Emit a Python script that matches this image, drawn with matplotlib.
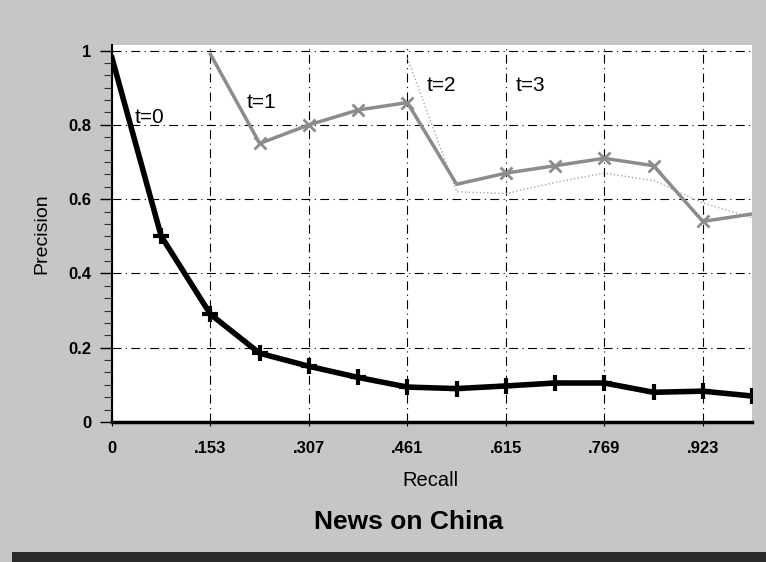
import numpy as np
import matplotlib
matplotlib.use('Agg')
import matplotlib.pyplot as plt
from matplotlib.ticker import MultipleLocator

plt.rcParams['font.family'] = ['Liberation Sans', 'DejaVu Sans']

# recall steps k/13
recall = np.arange(14) / 13.0

# t=0 (black, thick)
prec_t0 = [0.98, 0.50, 0.29, 0.185, 0.15, 0.12, 0.094, 0.09, 0.097, 0.105, 0.105, 0.08, 0.083, 0.07]

# t=1 (gray, starts at .153)
recall_t1 = recall[2:]
prec_t1 = [0.99, 0.75, 0.80, 0.84, 0.86, 0.64, 0.67, 0.69, 0.71, 0.69, 0.54, 0.56]

# faint dotted trace (t=2/t=3), starts at .461
recall_t2 = recall[6:]
prec_t2 = [0.98, 0.62, 0.615, 0.645, 0.67, 0.65, 0.59, 0.55]

xticks = [0, 2/13, 4/13, 6/13, 8/13, 10/13, 12/13]
xtick_labels = ['0', '.153', '.307', '.461', '.615', '.769', '.923']
yticks = [0, 0.2, 0.4, 0.6, 0.8, 1.0]
ytick_labels = ['0', '0.2', '0.4', '0.6', '0.8', '1']

BG = '#c6c6c6'
W, H = 766, 562

fig = plt.figure(figsize=(W / 100, H / 100), dpi=100, facecolor=BG)
ax = fig.add_axes([112 / W, 1 - 422 / H, 640 / W, 377 / H])
ax.set_facecolor('white')

ax.plot(recall_t2, prec_t2, color='#a8a8a8', linewidth=1.0, linestyle=':', zorder=2)
ax.plot(recall_t1, prec_t1, color='#8c8c8c', linewidth=2.5, marker='x',
        markersize=8, markeredgewidth=2.0, markevery=[1, 2, 3, 4, 6, 7, 8, 9, 10], zorder=3)
ax.plot(recall, prec_t0, color='black', linewidth=4, marker='+',
        markersize=12, markeredgewidth=3, markevery=list(range(1, 14)), zorder=4)

ax.set_xlim(0, 1)
ax.set_ylim(0, 1.015)
ax.set_xticks(xticks)
ax.set_xticklabels(xtick_labels)
ax.set_yticks(yticks)
ax.set_yticklabels(ytick_labels)
ax.yaxis.set_minor_locator(MultipleLocator(0.2 / 6))
ax.tick_params(axis='x', which='major', length=3, direction='out', pad=11, labelsize=12)
ax.tick_params(axis='y', which='major', length=9, width=1.0, direction='out', pad=6, labelsize=12)
ax.tick_params(axis='y', which='minor', length=6, width=0.8, direction='out', color='#333333')
for lab in ax.get_xticklabels() + ax.get_yticklabels():
    lab.set_fontweight('bold')

ax.grid(True, which='major', color='black', linestyle=(0, (8, 4, 1, 4)), linewidth=0.8)
for s in ['top', 'right']:
    ax.spines[s].set_visible(False)
ax.spines['left'].set_linewidth(1.5)
ax.spines['bottom'].set_linewidth(2.5)

ax.text(0.036, 0.805, 't=0', fontsize=15, zorder=5)
ax.text(0.211, 0.845, 't=1', fontsize=15, zorder=5)
ax.text(0.492, 0.89, 't=2', fontsize=15, zorder=5)
ax.text(0.630, 0.89, 't=3', fontsize=15, zorder=5)

ax.set_ylabel('Precision', fontsize=14)
ax.yaxis.set_label_coords((42 - 112) / 640, 0.5)
ax.yaxis.label.set_va('center')
ax.set_xlabel('Recall', fontsize=14.5)
ax.xaxis.set_label_coords((430 - 112) / 640, (422 - 480) / 377)
ax.xaxis.label.set_va('center')

fig.text(409 / W, 1 - 522 / H, 'News on China', fontsize=19, fontweight='bold',
         ha='center', va='center')

# dark band along the bottom edge
fig.patches.append(plt.Rectangle((12 / W, 0), 754 / W, 10 / H, transform=fig.transFigure,
                                 facecolor='#2a2a2a', edgecolor='none'))

fig.savefig('out.png', dpi=100, facecolor=BG)
